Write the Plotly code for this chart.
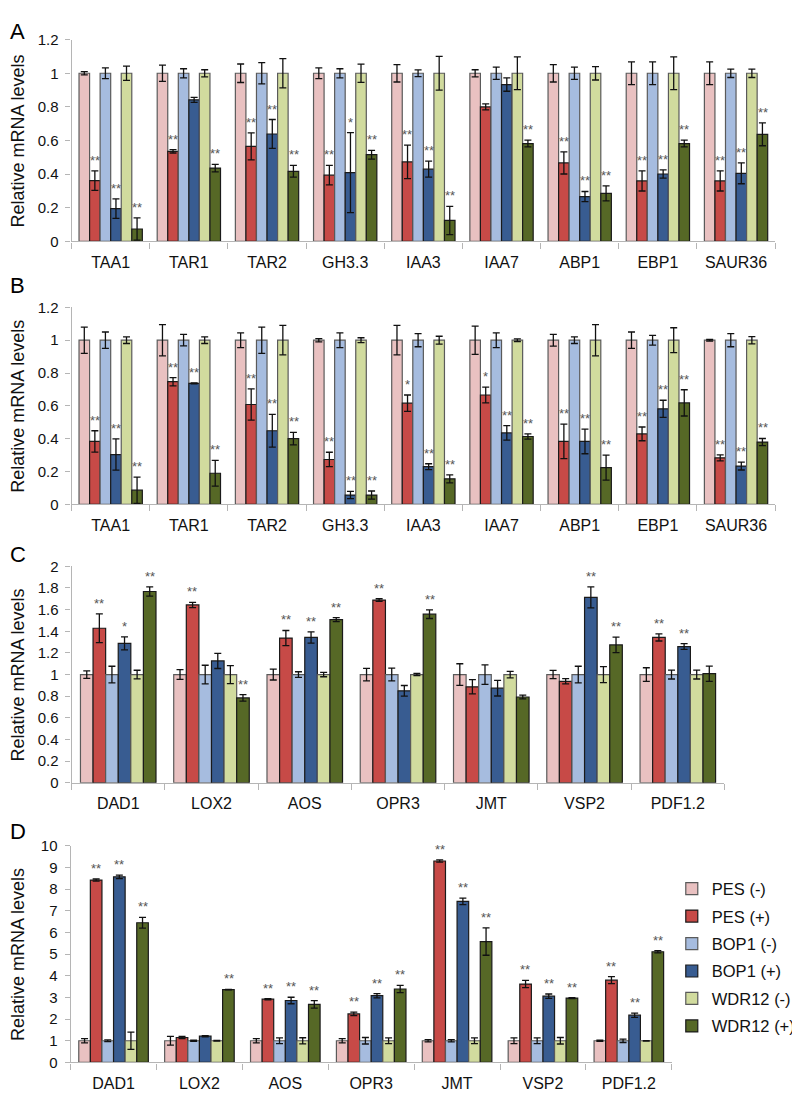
import plotly.graph_objects as go

series_names = ["PES (-)", "PES (+)", "BOP1 (-)", "BOP1 (+)", "WDR12 (-)", "WDR12 (+)"]
fill_colors = ["#E9C1C1", "#C74A47", "#A6BCDF", "#385C91", "#D1DB9E", "#566826"]
line_colors = ["#5a5a5a", "#1a1a1a", "#5a5a5a", "#1a1a1a", "#5a5a5a", "#1a1a1a"]

cats_auxin = ["TAA1", "TAR1", "TAR2", "GH3.3", "IAA3", "IAA7", "ABP1", "EBP1", "SAUR36"]
cats_ja = ["DAD1", "LOX2", "AOS", "OPR3", "JMT", "VSP2", "PDF1.2"]

# Panel A
a_vals = [
    [1, 1, 1, 1, 1, 1, 1, 1, 1],
    [0.362, 0.536, 0.565, 0.394, 0.473, 0.80, 0.467, 0.36, 0.36],
    [1, 1, 1, 1, 1, 1, 1, 1, 1],
    [0.195, 0.842, 0.639, 0.409, 0.43, 0.933, 0.267, 0.401, 0.405],
    [1, 1, 1, 1, 1, 1, 1, 1, 1],
    [0.074, 0.436, 0.417, 0.516, 0.125, 0.582, 0.286, 0.582, 0.637],
]
a_errs = [
    [0.01, 0.048, 0.055, 0.032, 0.052, 0.021, 0.052, 0.068, 0.068],
    [0.058, 0.01, 0.08, 0.058, 0.1, 0.018, 0.066, 0.06, 0.06],
    [0.032, 0.027, 0.063, 0.027, 0.02, 0.036, 0.036, 0.068, 0.025],
    [0.058, 0.015, 0.086, 0.238, 0.048, 0.04, 0.03, 0.024, 0.062],
    [0.042, 0.021, 0.087, 0.054, 0.1, 0.097, 0.04, 0.097, 0.025],
    [0.066, 0.022, 0.035, 0.026, 0.084, 0.02, 0.045, 0.02, 0.068],
]
a_sig = [
    ["", "", "", "", "", "", "", "", ""],
    ["**", "**", "**", "**", "**", "", "**", "**", "**"],
    ["", "", "", "", "", "", "", "", ""],
    ["**", "", "**", "*", "**", "", "**", "**", "**"],
    ["", "", "", "", "", "", "", "", ""],
    ["**", "**", "**", "**", "**", "**", "**", "**", "**"],
]

# Panel B
b_vals = [
    [1, 1, 1, 1, 1, 1, 1, 1, 1],
    [0.383, 0.747, 0.608, 0.273, 0.616, 0.666, 0.383, 0.429, 0.283],
    [1, 1, 1, 1, 1, 1, 1, 1, 1],
    [0.303, 0.737, 0.448, 0.056, 0.229, 0.435, 0.383, 0.582, 0.233],
    [1, 1, 1, 1, 1, 1, 1, 1, 1],
    [0.086, 0.189, 0.40, 0.056, 0.155, 0.413, 0.223, 0.618, 0.379],
]
b_errs = [
    [0.08, 0.095, 0.045, 0.01, 0.09, 0.086, 0.036, 0.05, 0.005],
    [0.065, 0.025, 0.095, 0.044, 0.05, 0.048, 0.105, 0.042, 0.018],
    [0.05, 0.035, 0.08, 0.045, 0.04, 0.045, 0.02, 0.03, 0.04],
    [0.095, 0.003, 0.1, 0.022, 0.018, 0.044, 0.075, 0.052, 0.024],
    [0.02, 0.02, 0.09, 0.015, 0.024, 0.008, 0.095, 0.076, 0.022],
    [0.08, 0.078, 0.038, 0.025, 0.024, 0.016, 0.076, 0.08, 0.022],
]
b_sig = [
    ["", "", "", "", "", "", "", "", ""],
    ["**", "**", "**", "**", "*", "*", "**", "**", "**"],
    ["", "", "", "", "", "", "", "", ""],
    ["**", "**", "**", "**", "**", "**", "**", "**", "**"],
    ["", "", "", "", "", "", "", "", ""],
    ["**", "**", "**", "**", "**", "**", "**", "**", "**"],
]

# Panel C
c_vals = [
    [1, 1, 1, 1, 1, 1, 1],
    [1.428, 1.643, 1.337, 1.688, 0.887, 0.938, 1.343],
    [1, 1, 1, 1, 1, 1, 1],
    [1.289, 1.126, 1.343, 0.85, 0.874, 1.713, 1.259],
    [1, 1, 1, 1.0, 1, 1, 1],
    [1.767, 0.784, 1.507, 1.558, 0.793, 1.274, 1.008],
]
c_errs = [
    [0.035, 0.045, 0.05, 0.058, 0.1, 0.038, 0.063],
    [0.133, 0.024, 0.07, 0.012, 0.066, 0.024, 0.033],
    [0.077, 0.086, 0.026, 0.059, 0.09, 0.077, 0.041],
    [0.06, 0.07, 0.052, 0.049, 0.072, 0.097, 0.027],
    [0.04, 0.083, 0.02, 0.01, 0.03, 0.074, 0.041],
    [0.042, 0.03, 0.018, 0.04, 0.018, 0.072, 0.07],
]
c_sig = [
    ["", "", "", "", "", "", ""],
    ["**", "**", "**", "**", "", "", "**"],
    ["", "", "", "", "", "", ""],
    ["*", "", "**", "", "", "**", "**"],
    ["", "", "", "", "", "", ""],
    ["**", "**", "**", "**", "", "**", ""],
]

# Panel D
d_vals = [
    [1, 1, 1, 1, 1, 1, 1],
    [8.42, 1.15, 2.92, 2.24, 9.30, 3.62, 3.80],
    [1, 1, 1, 1, 1, 1, 1],
    [8.57, 1.21, 2.86, 3.08, 7.44, 3.06, 2.18],
    [1, 1, 1, 1, 1, 1, 1],
    [6.45, 3.36, 2.68, 3.39, 5.58, 2.97, 5.11],
]
d_errs = [
    [0.1, 0.2, 0.1, 0.1, 0.05, 0.13, 0.03],
    [0.05, 0.05, 0.03, 0.08, 0.05, 0.17, 0.16],
    [0.04, 0.03, 0.13, 0.15, 0.05, 0.13, 0.08],
    [0.08, 0.03, 0.15, 0.1, 0.15, 0.1, 0.1],
    [0.4, 0.02, 0.14, 0.13, 0.13, 0.15, 0.01],
    [0.25, 0.01, 0.17, 0.17, 0.63, 0.02, 0.05],
]
d_sig = [
    ["", "", "", "", "", "", ""],
    ["**", "", "**", "**", "**", "**", "**"],
    ["", "", "", "", "", "", ""],
    ["**", "", "**", "**", "**", "**", "**"],
    ["", "", "", "", "", "", ""],
    ["**", "**", "**", "**", "**", "**", "**"],
]

# The page body has an 8px default margin: draw on a 792x1089 canvas and
# express all reference pixel positions relative to that offset.
OFF = 8
W, H = 800 - OFF, 1097 - OFF
BARGAP = 0.19
FONT = "Liberation Sans, Arial, sans-serif"


def px_x(v):
    return (v - OFF) / W


def px_y(v):
    return 1 - (v - OFF) / H


panels = [
    dict(letter="A", cats=cats_auxin, vals=a_vals, errs=a_errs, sig=a_sig,
         xdom=(72, 780), ydom=(31, 236), yrange=(0, 1.2), dtick=0.2, letter_y=None),
    dict(letter="B", cats=cats_auxin, vals=b_vals, errs=b_errs, sig=b_sig,
         xdom=(72, 780), ydom=(303, 503), yrange=(0, 1.2), dtick=0.2, letter_y=281),
    dict(letter="C", cats=cats_ja, vals=c_vals, errs=c_errs, sig=c_sig,
         xdom=(72, 729), ydom=(566, 786), yrange=(0, 2), dtick=0.2, letter_y=554),
    dict(letter="D", cats=cats_ja, vals=d_vals, errs=d_errs, sig=d_sig,
         xdom=(71, 676), ydom=(850, 1070), yrange=(0, 10), dtick=1, letter_y=835),
]

fig = go.Figure()
annotations = []
layout_axes = {}

for p, pan in enumerate(panels, start=1):
    xa = "x" if p == 1 else f"x{p}"
    ya = "y" if p == 1 else f"y{p}"
    for s in range(6):
        fig.add_trace(go.Bar(
            x=pan["cats"], y=pan["vals"][s], name=series_names[s],
            xaxis=xa, yaxis=ya,
            marker=dict(color=fill_colors[s], line=dict(color=line_colors[s], width=1.2)),
            error_y=dict(type="data", array=pan["errs"][s], color="#111111", thickness=1.3, width=3.5),
            showlegend=(p == 4), legendgroup=f"g{s}",
        ))
    x0, x1 = pan["xdom"]
    y0, y1 = pan["ydom"]
    xdomain = [px_x(x0), px_x(x1)]
    ydomain = [px_y(y1), px_y(y0)]
    layout_axes["xaxis" if p == 1 else f"xaxis{p}"] = dict(
        domain=xdomain, anchor=ya, type="category",
        showline=True, linecolor="#b5b5b5", linewidth=1.2,
        ticks="outside", tickson="boundaries", ticklen=6, tickcolor="#b5b5b5", tickwidth=1.2,
        tickfont=dict(size=16, color="#111111", family=FONT),
        showgrid=False, zeroline=False, ticklabelstandoff=6,
    )
    layout_axes["yaxis" if p == 1 else f"yaxis{p}"] = dict(
        domain=ydomain, anchor=xa, range=list(pan["yrange"]), dtick=pan["dtick"],
        showline=True, linecolor="#b5b5b5", linewidth=1.2,
        ticks="outside", ticklen=5, tickcolor="#b5b5b5", tickwidth=1.2,
        tickfont=dict(size=15, color="#111111", family=FONT),
        showgrid=False, zeroline=False, ticklabelstandoff=4,
    )
    # asterisks
    ncat = len(pan["cats"])
    group_px = (x1 - x0) / ncat
    bar_px = group_px * (1 - BARGAP) / 6
    for s in range(6):
        for i, c in enumerate(pan["cats"]):
            txt = pan["sig"][s][i]
            if txt:
                annotations.append(dict(
                    x=c, y=pan["vals"][s][i] + pan["errs"][s][i], xref=xa, yref=ya,
                    text=txt, showarrow=False, xanchor="center", yanchor="bottom",
                    xshift=(s - 2.5) * bar_px, yshift=1,
                    font=dict(size=13, color="#555555", family=FONT),
                ))
    # panel letter
    if pan["letter_y"] is None:
        ly, yanc = 1.0, "top"
    else:
        ly, yanc = px_y(pan["letter_y"]), "middle"
    annotations.append(dict(
        x=0, y=ly, xref="paper", yref="paper",
        text=pan["letter"], showarrow=False, xanchor="left", yanchor=yanc,
        font=dict(size=22, color="#000000", family=FONT),
    ))
    # y title
    annotations.append(dict(
        x=px_x(18), y=px_y((y0 + y1) / 2), xref="paper", yref="paper",
        text="Relative mRNA levels", showarrow=False, textangle=-90,
        xanchor="center", yanchor="middle",
        font=dict(size=18, color="#111111", family=FONT),
    ))

fig.update_layout(
    width=W, height=H, margin=dict(l=0, r=0, t=0, b=0),
    paper_bgcolor="white", plot_bgcolor="white",
    barmode="group", bargap=BARGAP, bargroupgap=0,
    font=dict(family=FONT, color="#111111"),
    legend=dict(x=px_x(676), y=px_y(876), xanchor="left", yanchor="top",
                font=dict(size=16.5, family=FONT, color="#111111"),
                traceorder="grouped", tracegroupgap=3,
                itemwidth=30, bgcolor="rgba(0,0,0,0)"),
    annotations=annotations,
    **layout_axes,
)

fig.write_html("out.html")
